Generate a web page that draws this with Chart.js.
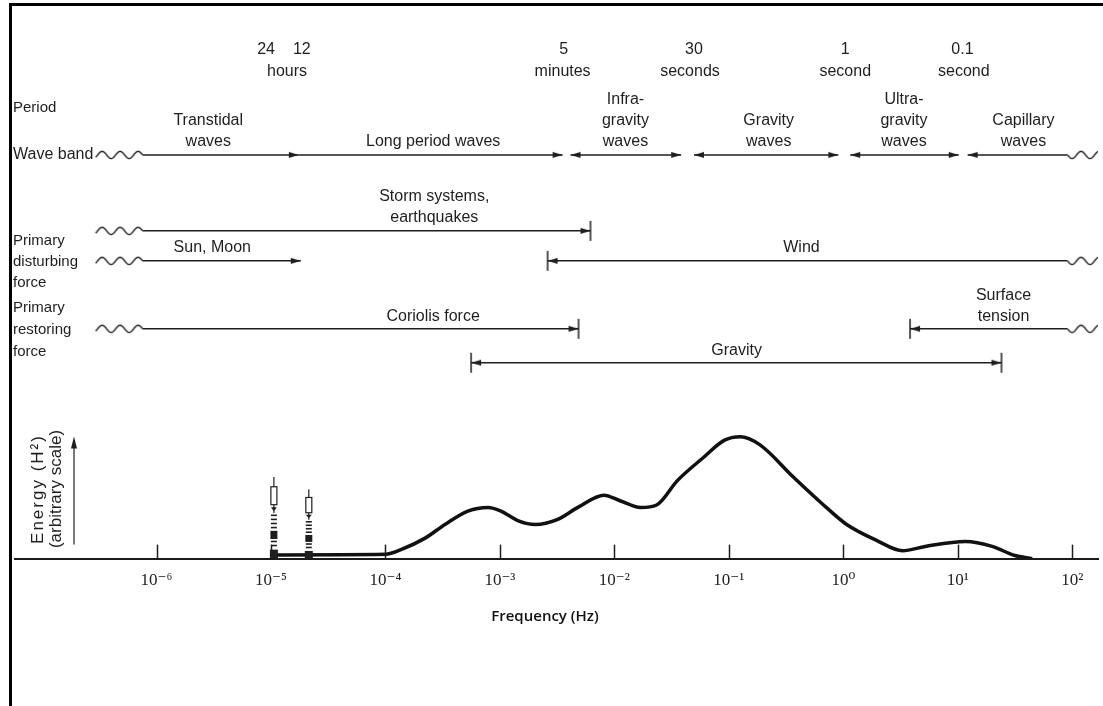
<!DOCTYPE html>
<html>
<head>
<meta charset="utf-8">
<script src="https://cdn.jsdelivr.net/npm/chart.js@4.4.1/dist/chart.umd.min.js"></script>
<style>
  body { margin: 0; background: #fff; }
  #wrap { position: relative; width: 1103px; height: 706px; }
  #frame { position: absolute; left: 9px; top: 3px; right: 0; bottom: 0;
           border-left: 3px solid #000; border-top: 3px solid #000; pointer-events: none; }
</style>
</head>
<body>
<div id="wrap">
  <canvas id="spectrum" width="1103" height="706"></canvas>
  <div id="frame"></div>
</div>
<script>
// frequency axis limits (Hz) and labelled decades
const xLo = 5.8e-8, xHi = 168;
const tickExp = [-6, -5, -4, -3, -2, -1, 0, 1, 2];

// ocean wave energy spectrum, arbitrary units
const spectrumFreq = [1.06e-5, 1.0e-4, 1.38e-4, 2.24e-4, 3.31e-4, 5.25e-4, 7.9e-4, 1.02e-3, 1.45e-3, 2.04e-3,
  3.16e-3, 4.8e-3, 8.1e-3, 0.0112, 0.017, 0.0234, 0.0355, 0.060, 0.091, 0.126,
  0.186, 0.37, 0.71, 1.07, 1.95, 3.3, 5.2, 11.7, 20, 31.6, 44.7];
const spectrumEnergy = [0.3, 0.35, 0.75, 1.7, 2.8, 3.9, 4.2, 3.9, 3.1, 2.8,
  3.2, 4.2, 5.2, 4.75, 4.2, 4.4, 6.4, 8.3, 9.7, 10,
  9.35, 6.65, 4.2, 2.8, 1.5, 0.65, 1.0, 1.4, 1.0, 0.25, 0];

// diurnal and semidiurnal tide lines
const tideFreq = [1.06e-5, 2.14e-5];
const tideEnergy = [6.7, 5.7];

// period marks along the top
const periodNumbers = ['24', '12', '5', '30', '1', '0.1'];
const periodNumberFreq = [9.05e-6, 1.86e-5, 3.6e-3, 0.0496, 1.04, 11.0];
const periodUnits = ['hours', 'minutes', 'seconds', 'second', 'second'];
const periodUnitFreq = [1.38e-5, 3.53e-3, 0.0458, 1.04, 11.3];

// wave bands
const bandLabels = [['Transtidal', 'waves'], ['Long period waves'], ['Infra-', 'gravity', 'waves'],
  ['Gravity', 'waves'], ['Ultra-', 'gravity', 'waves'], ['Capillary', 'waves']];
const bandLabelFreq = [2.83e-6, 2.61e-4, 0.0125, 0.223, 3.39, 37.5];
const bandFrom = [7.55e-7, 1.75e-5, 4.14e-3, 0.0496, 1.15, 12.2];
const bandTo = [1.75e-5, 3.53e-3, 0.0383, 0.905, 10.2, 91];

// primary disturbing forces
const disturbLabels = [['Storm systems,', 'earthquakes'], ['Sun, Moon'], ['Wind']];
const disturbLabelFreq = [2.67e-4, 3.07e-6, 0.431];
const disturbFrom = [7.55e-7, 7.55e-7, 2.61e-3];
const disturbTo = [6.18e-3, 1.82e-5, 91];

// primary restoring forces
const restoreLabels = [['Coriolis force'], ['Surface', 'tension'], ['Gravity']];
const restoreLabelFreq = [2.61e-4, 25.1, 0.117];
const restoreFrom = [7.55e-7, 3.83, 5.6e-4];
const restoreTo = [4.86e-3, 91, 24.1];

const ink = '#1e1e1e';
const sansFont = "'Liberation Sans', Arial, sans-serif";

// end markers used as point styles: tip / joint sits at the canvas centre
function squiggle(side) {
  const c = document.createElement('canvas');
  c.width = 100; c.height = 14;
  const g = c.getContext('2d');
  g.strokeStyle = ink; g.lineWidth = 1.4;
  g.beginPath();
  for (let d = 0; d <= 47; d += 0.5) {
    const x = side === 'left' ? 50 - d : 50 + d;
    const y = 7 + (side === 'left' ? -1 : 1) * 3.6 * Math.sin(d * 2 * Math.PI / 18);
    d ? g.lineTo(x, y) : g.moveTo(x, y);
  }
  g.stroke();
  return c;
}
function head(dir, bar) {
  const c = document.createElement('canvas');
  c.width = 26; c.height = 22;
  const g = c.getContext('2d');
  g.fillStyle = g.strokeStyle = ink;
  const s = dir === 'right' ? -1 : 1;
  g.beginPath();
  g.moveTo(13, 11); g.lineTo(13 + s * 10, 8); g.lineTo(13 + s * 10, 14);
  g.closePath(); g.fill();
  if (bar) {
    g.lineWidth = 1.5;
    g.beginPath(); g.moveTo(13, 1); g.lineTo(13, 21); g.stroke();
  }
  return c;
}
const marks = {
  waveL: squiggle('left'), waveR: squiggle('right'),
  headR: head('right'), headL: head('left'),
  barR: head('right', true), barL: head('left', true)
};

// vertical rows of the upper diagram (pixel-like units on the 'yr' axis)
const rowBand = 155, rowStorm = 231, rowDisturb = 261, rowRestore = 329, rowGravity = 363;

function segment(from, to, row, caps) {
  return {
    type: 'line', yAxisID: 'yr',
    data: [{ x: from, y: row }, { x: to, y: row }],
    borderColor: ink, borderWidth: 1.5,
    pointStyle: caps.map(c => marks[c] || 'circle'),
    pointRadius: caps.map(c => marks[c] ? 5 : 0),
    pointBackgroundColor: ink, pointBorderWidth: 0
  };
}

const bandCaps = [['waveL', 'headR'], ['none', 'headR'], ['headL', 'headR'],
  ['headL', 'headR'], ['headL', 'headR'], ['headL', 'waveR']];
const disturbCaps = [['waveL', 'barR'], ['waveL', 'headR'], ['barL', 'waveR']];
const disturbRows = [rowStorm, rowDisturb, rowDisturb];
const restoreCaps = [['waveL', 'barR'], ['barL', 'waveR'], ['barL', 'barR']];
const restoreRows = [rowRestore, rowRestore, rowGravity];

const datasets = [{
  type: 'line', yAxisID: 'y',
  data: spectrumFreq.map((f, i) => ({ x: f, y: spectrumEnergy[i] })),
  borderColor: '#111', borderWidth: 3.5, pointRadius: 0,
  cubicInterpolationMode: 'monotone'
}];
bandFrom.forEach((f, i) => datasets.push(segment(f, bandTo[i], rowBand, bandCaps[i])));
disturbFrom.forEach((f, i) => datasets.push(segment(f, disturbTo[i], disturbRows[i], disturbCaps[i])));
restoreFrom.forEach((f, i) => datasets.push(segment(f, restoreTo[i], restoreRows[i], restoreCaps[i])));

const sup = { '-': '\u207B', '0': '\u2070', '1': '\u00B9', '2': '\u00B2', '3': '\u00B3',
  '4': '\u2074', '5': '\u2075', '6': '\u2076' };

function lines(ctx, arr, x, yLast, gap) {
  arr.forEach((t, i) => ctx.fillText(t, x, yLast - (arr.length - 1 - i) * gap));
}

const diagram = {
  id: 'diagram',
  afterDatasetsDraw(chart) {
    const { ctx } = chart;
    const xs = chart.scales.x, ys = chart.scales.y, yr = chart.scales.yr;
    const base = ys.getPixelForValue(0);
    ctx.save();
    ctx.fillStyle = ink; ctx.strokeStyle = ink;
    ctx.textBaseline = 'middle';

    // tick marks standing up from the frequency axis
    ctx.lineWidth = 1.5;
    xs.ticks.forEach(t => {
      const px = Math.round(xs.getPixelForValue(t.value)) + 0.5;
      ctx.beginPath(); ctx.moveTo(px, base); ctx.lineTo(px, base - 14); ctx.stroke();
    });

    // tide lines
    tideFreq.forEach((f, i) => {
      const px = xs.getPixelForValue(f);
      const top = ys.getPixelForValue(tideEnergy[i]);
      const h = base - top, at = k => top + k * h;
      ctx.lineWidth = 1.2;
      ctx.beginPath(); ctx.moveTo(px, top); ctx.lineTo(px, at(0.12)); ctx.stroke();
      ctx.strokeRect(px - 3, at(0.12), 6, at(0.34) - at(0.12));
      ctx.beginPath(); ctx.moveTo(px, at(0.34)); ctx.lineTo(px, at(0.44)); ctx.stroke();
      ctx.beginPath(); ctx.moveTo(px - 3, at(0.37)); ctx.lineTo(px + 3, at(0.37)); ctx.lineTo(px, at(0.42)); ctx.fill();
      ctx.lineWidth = 1.6;
      for (const k of [0.47, 0.52, 0.57, 0.62, 0.79, 0.84]) {
        ctx.beginPath(); ctx.moveTo(px - 3, at(k)); ctx.lineTo(px + 3, at(k)); ctx.stroke();
      }
      ctx.fillRect(px - 3.5, at(0.66), 7, at(0.76) - at(0.66));
      ctx.fillRect(px - 4, at(0.89), 8, base - at(0.89));
    });

    // period marks
    ctx.textAlign = 'center';
    ctx.font = `16px ${sansFont}`;
    periodNumbers.forEach((t, i) => ctx.fillText(t, xs.getPixelForValue(periodNumberFreq[i]), yr.getPixelForValue(50)));
    periodUnits.forEach((t, i) => ctx.fillText(t, xs.getPixelForValue(periodUnitFreq[i]), yr.getPixelForValue(72)));

    // band and force labels
    const gap = 21;
    bandLabels.forEach((l, i) => lines(ctx, l, xs.getPixelForValue(bandLabelFreq[i]), yr.getPixelForValue(rowBand - 13), gap));
    disturbLabels.forEach((l, i) => lines(ctx, l, xs.getPixelForValue(disturbLabelFreq[i]), yr.getPixelForValue(disturbRows[i] - 13), gap));
    restoreLabels.forEach((l, i) => lines(ctx, l, xs.getPixelForValue(restoreLabelFreq[i]), yr.getPixelForValue(restoreRows[i] - 12), gap));

    // row headings
    ctx.textAlign = 'left';
    ctx.font = `15px ${sansFont}`;
    const lx = 13;
    ctx.fillText('Period', lx, yr.getPixelForValue(108));
    ctx.font = `16px ${sansFont}`;
    ctx.fillText('Wave band', lx, yr.getPixelForValue(rowBand));
    ctx.font = `15px ${sansFont}`;
    lines(ctx, ['Primary', 'disturbing', 'force'], lx, yr.getPixelForValue(283), 21);
    lines(ctx, ['Primary', 'restoring', 'force'], lx, yr.getPixelForValue(352), 22);

    // energy label with upward arrow
    ctx.save();
    ctx.translate(0, 489);
    ctx.rotate(-Math.PI / 2);
    ctx.textAlign = 'center';
    ctx.font = `17px ${sansFont}`;
    ctx.letterSpacing = '2px';
    ctx.fillText('Energy (H\u00B2)', 0, 38);
    ctx.letterSpacing = '0px';
    ctx.fillText('(arbitrary scale)', 0, 56);
    ctx.restore();
    ctx.lineWidth = 1.2;
    ctx.beginPath(); ctx.moveTo(74, base - 14); ctx.lineTo(74, base - 112); ctx.stroke();
    ctx.beginPath(); ctx.moveTo(74, base - 122); ctx.lineTo(71, base - 110); ctx.lineTo(77, base - 110); ctx.fill();

    // axis title
    ctx.textAlign = 'center';
    ctx.font = `600 15px 'Open Sans', sans-serif`;
    ctx.fillStyle = '#111';
    ctx.fillText('Frequency (Hz)', 545, 617);
    ctx.restore();
  }
};

new Chart(document.getElementById('spectrum'), {
  type: 'line',
  data: { datasets },
  options: {
    responsive: false,
    animation: false,
    events: [],
    layout: { padding: { left: 15, right: 0, top: 20, bottom: 111 } },
    plugins: { legend: { display: false }, tooltip: { enabled: false } },
    scales: {
      x: {
        type: 'logarithmic', min: xLo, max: xHi,
        grid: { display: false },
        border: { display: true, color: '#1a1a1a', width: 2 },
        afterBuildTicks: s => { s.ticks = tickExp.map(e => ({ value: Math.pow(10, e) })); },
        ticks: {
          autoSkip: false, maxRotation: 0, padding: 4, color: '#222',
          font: { family: "'Liberation Serif', 'DejaVu Serif', serif", size: 17 },
          callback: v => '10' + String(Math.round(Math.log10(v))).split('').map(ch => sup[ch]).join('')
        }
      },
      y: { display: false, min: 0, max: 44.2 },
      yr: { display: false, reverse: true, min: 20, max: 559 }
    }
  },
  plugins: [diagram]
});
</script>
</body>
</html>
